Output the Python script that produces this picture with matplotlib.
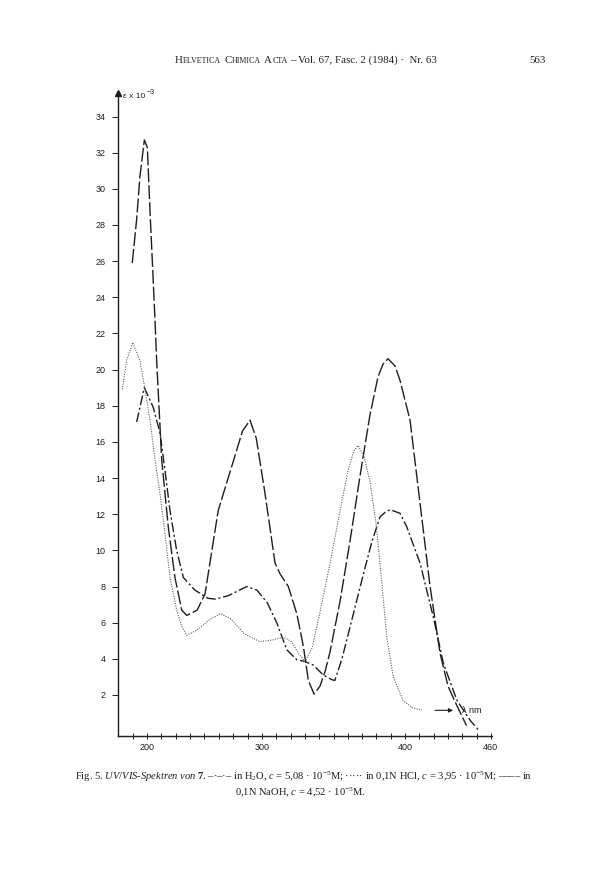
import numpy as np
import matplotlib.pyplot as plt

plt.rcParams['font.family'] = ['Liberation Sans', 'DejaVu Sans']
plt.rcParams['mathtext.fontset'] = 'custom'
plt.rcParams['mathtext.rm'] = 'Liberation Serif'
plt.rcParams['mathtext.it'] = 'Liberation Serif:italic'
plt.rcParams['mathtext.bf'] = 'Liberation Serif:bold'

# spectra (lambda in nm, epsilon x 10^-3)
nm_naoh = [187.2, 191.0, 193.9, 197.7, 200.3, 202.6, 205.0, 207.0, 208.4, 212.8,
           218.5, 224.3, 230.2, 234.5, 243.7, 250.5, 261.9, 275.4, 283.0, 289.6,
           295.0, 302.0, 309.1, 312.6, 318.4, 324.3, 328.9, 332.4, 336.4, 340.6,
           344.1, 347.6, 354.6, 361.5, 368.5, 375.5, 381.1, 384.6, 388.1, 393.0,
           396.5, 403.5, 410.5, 417.5, 424.5, 430.0, 436.0, 443.0]
eps_naoh = [25.9, 28.3, 30.7, 32.7, 32.3, 28.8, 25.5, 22.7, 20.5, 15.0,
            11.3, 8.5, 6.7, 6.4, 6.7, 7.6, 12.2, 15.0, 16.6, 17.2,
            16.2, 13.2, 9.3, 8.7, 8.0, 6.5, 4.7, 2.8, 2.05, 2.5,
            3.3, 4.4, 7.2, 10.5, 14.1, 17.5, 19.6, 20.3, 20.6, 20.2,
            19.4, 17.2, 12.6, 8.0, 4.3, 2.5, 1.45, 0.3]

nm_h2o = [191.0, 197.7, 205.5, 211.3, 215.7, 220.0, 225.8, 231.6, 241.7, 252.9,
          259.7, 271.0, 286.7, 295.6, 303.7, 310.3, 317.3, 324.3, 330.1, 335.9,
          342.9, 348.7, 350.9, 355.9, 363.6, 370.6, 376.9, 382.5, 386.0, 389.5,
          396.5, 401.2, 410.5, 419.8, 426.8, 436.3, 445.5, 451.2]
eps_h2o = [17.1, 19.0, 17.9, 16.5, 14.4, 12.2, 10.0, 8.5, 7.8, 7.35,
           7.3, 7.5, 8.0, 7.8, 7.1, 6.0, 4.5, 3.95, 3.85, 3.65,
           3.1, 2.85, 2.8, 4.0, 6.4, 8.6, 10.5, 11.85, 12.1, 12.25,
           12.05, 11.3, 9.3, 6.3, 3.75, 1.7, 0.6, 0.07]

nm_hcl = [178.5, 182.3, 187.6, 193.9, 198.3, 202.6, 207.0, 211.3, 215.7, 220.0,
          225.8, 230.2, 234.5, 243.7, 255.1, 264.1, 273.0, 284.3, 297.9, 307.9,
          314.9, 320.8, 325.4, 330.1, 335.0, 340.6, 347.6, 354.6, 360.1, 364.3,
          367.1, 371.3, 375.5, 379.7, 383.2, 387.2, 391.8, 398.6, 405.6, 411.9]
eps_hcl = [18.9, 20.5, 21.5, 20.5, 18.9, 17.2, 15.0, 13.15, 10.9, 8.5,
           6.7, 5.8, 5.3, 5.6, 6.2, 6.5, 6.2, 5.4, 4.95, 5.05,
           5.2, 4.95, 4.3, 3.85, 4.6, 6.6, 9.3, 12.2, 14.4, 15.5,
           15.8, 15.2, 13.8, 11.5, 8.7, 5.2, 3.0, 1.7, 1.27, 1.17]

y_ticks = list(range(2, 35, 2))
x_major = [200, 300, 400, 460]
x_minor = [187.5, 212.5, 225, 237.5, 250, 262.5, 275, 287.5,
           310, 320, 330, 340, 350, 360, 370, 380, 390,
           410, 420, 430, 440, 450]

# the printed wavelength axis is not quite linear below 300 nm
NM_NODES = [100, 200, 300, 500]
PX_NODES = [32, 147, 262, 548]


def fwd(x):
    return np.interp(x, NM_NODES, PX_NODES)


def inv(x):
    return np.interp(x, PX_NODES, NM_NODES)


ink = '#1e1e1e'
fig = plt.figure(figsize=(6, 8.88), dpi=100)
ax = fig.add_axes([118 / 600, 1 - 736 / 888, (492 - 118) / 600, (736 - 93) / 888])
ax.set_xscale('function', functions=(fwd, inv))
ax.set_xlim(174.8, 460.8)
ax.set_ylim(-0.27, 35.3)

ax.plot(nm_naoh, eps_naoh, color=ink, lw=1.0, dashes=(10, 2.2))
ax.plot(nm_h2o, eps_h2o, color=ink, lw=1.0, dashes=(7, 2, 1.5, 2))
ax.plot(nm_hcl, eps_hcl, color='#606060', lw=0.8, dashes=(1, 1.2))

for s in ['top', 'right']:
    ax.spines[s].set_visible(False)
for s in ['left', 'bottom']:
    ax.spines[s].set_linewidth(1.0)
    ax.spines[s].set_color(ink)
ax.plot([174.8], [35.3], marker='^', ms=4.5, color=ink, clip_on=False)

ax.set_yticks(y_ticks)
ax.set_yticklabels([str(v) for v in y_ticks])
ax.set_xticks(x_major)
ax.set_xticklabels([str(v) for v in x_major])
ax.set_xticks(x_minor, minor=True)
ax.tick_params(axis='y', direction='out', length=4, width=0.7, pad=5,
               labelsize=6.5, colors=ink)
ax.tick_params(axis='x', which='both', direction='inout', length=4, width=0.7,
               pad=3, labelsize=6.5, colors=ink)

fig.text(123 / 600, 1 - 97 / 888, 'ε x 10', fontsize=6, color=ink, va='center')
fig.text(147 / 600, 1 - 93 / 888, '−3', fontsize=5, color=ink, va='center')

ax.annotate('', xy=(435.5, 1.15), xytext=(419, 1.15),
            arrowprops=dict(arrowstyle='-|>', lw=0.8, color=ink, mutation_scale=6))
ax.text(439.5, 1.15, 'λ nm', fontsize=6.5, color=ink, va='center')

# running head, small caps imitated with two sizes
header = [('H', 7.8, 0), ('ELVETICA', 5.8, 0.2), ('C', 7.8, 2.2), ('HIMICA', 5.8, 0.2),
          ('A', 7.8, 2.2), ('CTA', 5.8, 0.2),
          ('– Vol. 67, Fasc. 2 (1984) ·  Nr. 63', 7.8, 2.2)]
prev = fig.text(175 / 600, 1 - 65 / 888, header[0][0], fontsize=header[0][1],
                family='Liberation Serif', color=ink, va='bottom')
for s, size, gap in header[1:]:
    prev = ax.annotate(s, xy=(1, 0), xycoords=prev, xytext=(gap, 0),
                       textcoords='offset points', fontsize=size,
                       family='Liberation Serif', color=ink, va='bottom',
                       ha='left', annotation_clip=False)
fig.text(546 / 600, 1 - 65 / 888, '563', fontsize=7.8, family='Liberation Serif',
         color=ink, ha='right', va='bottom')

line1 = (r'Fig. 5. $\mathit{UV/VIS}$-$\mathit{Spektren\ von}$ $\mathbf{7}$. –·–·– in H$_2$O, '
         r'$\mathit{c}$ = 5,08 · 10$^{-5}$M; ····· in 0,1N HCl, $\mathit{c}$ = 3,95 · 10$^{-5}$M; –––– in')
line2 = r'0,1N NaOH, $\mathit{c}$ = 4,52 · 10$^{-5}$M.'
fig.text(304 / 600, 1 - 777 / 888, line1, fontsize=7.6, family='Liberation Serif',
         color=ink, ha='center', va='center')
fig.text(300 / 600, 1 - 792 / 888, line2, fontsize=7.6, family='Liberation Serif',
         color=ink, ha='center', va='center')

fig.savefig('out.png', dpi=100)
